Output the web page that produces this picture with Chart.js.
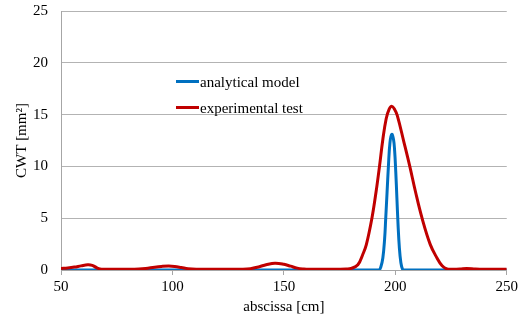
<!DOCTYPE html>
<html>
<head>
<meta charset="utf-8">
<script src="https://cdn.jsdelivr.net/npm/chart.js@4"></script>
<style>
  html, body { margin: 0; padding: 0; background: #fff; }
  #wrap { width: 521px; height: 320px; }
</style>
</head>
<body>
<div id="wrap"><canvas id="c" width="521" height="320"></canvas></div>
<script>
// ---- data ----
const seriesLabels = ['analytical model', 'experimental test'];

const analyticalX = [50, 100, 150, 192.5, 193.5, 194.4, 195.2, 195.7, 196.3, 196.9, 197.6, 198.4, 199.2, 199.7, 200.2, 200.7, 201.2, 201.8, 202.5, 203.2, 203.8, 210, 250];
const analyticalY = [0, 0, 0, 0, 0.3, 1.16, 3, 5, 7.5, 10, 12.3, 13.1, 12.6, 11.5, 9.5, 7, 4.5, 2.2, 0.7, 0.1, 0, 0, 0];

const experimentalX = [50, 53, 56, 59, 62, 64, 66, 67.5, 70, 80, 85, 88, 92, 95, 98.3, 101, 104, 107, 110.7, 120, 131.5, 135, 139, 142, 146, 150, 153, 156, 159, 161.5, 170, 178, 180.2, 183.2, 185.4, 187, 189.5, 191.4, 192.9, 194.4, 195.9, 197.2, 198.4, 199.7, 200.9, 203.8, 206.5, 209, 212, 215.7, 218.7, 221, 223.2, 226, 229, 232, 236, 240, 250];
const experimentalY = [0.15, 0.2, 0.28, 0.4, 0.5, 0.45, 0.22, 0.1, 0.08, 0.08, 0.1, 0.15, 0.27, 0.34, 0.38, 0.34, 0.24, 0.13, 0.08, 0.08, 0.08, 0.13, 0.32, 0.5, 0.65, 0.55, 0.37, 0.18, 0.1, 0.08, 0.08, 0.1, 0.15, 0.5, 1.5, 2.45, 5.0, 7.6, 10.0, 12.6, 14.6, 15.5, 15.8, 15.5, 14.9, 12.4, 10.0, 7.6, 5.0, 2.45, 1.16, 0.4, 0.1, 0.08, 0.1, 0.15, 0.1, 0.08, 0.08];

const xTickMin = 50, xTickMax = 250, xTickStep = 50;
const yTickMin = 0, yTickMax = 25, yTickStep = 5;

const xTitle = 'abscissa [cm]';
const yTitle = 'CWT [mm²]';

// ---- build ----
const toPoints = (xs, ys) => xs.map((x, i) => ({ x: x, y: ys[i] }));

const colors = ['#0070C0', '#C00000'];
const fontFamily = '"Liberation Serif", "Times New Roman", serif';
const fontSize = 15;

const insideLegend = {
  id: 'insideLegend',
  afterDatasetsDraw(chart) {
    const ctx = chart.ctx;
    chart.data.datasets.forEach((ds, i) => {
      const y = 81.5 + i * 26;
      ctx.save();
      ctx.strokeStyle = ds.borderColor;
      ctx.lineWidth = 3;
      ctx.beginPath();
      ctx.moveTo(176, y);
      ctx.lineTo(199, y);
      ctx.stroke();
      ctx.fillStyle = '#000';
      ctx.font = fontSize + 'px ' + fontFamily;
      ctx.textBaseline = 'alphabetic';
      ctx.textAlign = 'left';
      ctx.fillText(ds.label, 200, y + 5);
      ctx.restore();
    });
  }
};

new Chart(document.getElementById('c'), {
  type: 'scatter',
  data: {
    datasets: [
      {
        label: seriesLabels[0],
        data: toPoints(analyticalX, analyticalY),
        borderColor: colors[0],
        backgroundColor: colors[0],
        showLine: true,
        borderWidth: 3,
        pointRadius: 0,
        tension: 0.4,
        order: 1
      },
      {
        label: seriesLabels[1],
        data: toPoints(experimentalX, experimentalY),
        borderColor: colors[1],
        backgroundColor: colors[1],
        showLine: true,
        borderWidth: 3,
        pointRadius: 0,
        tension: 0.4,
        order: 0
      }
    ]
  },
  options: {
    responsive: false,
    animation: false,
    devicePixelRatio: 1,
    layout: { padding: { top: 2, right: 13, left: 0, bottom: 0 } },
    plugins: {
      legend: { display: false },
      tooltip: { enabled: false }
    },
    scales: {
      x: {
        type: 'linear',
        min: xTickMin,
        max: xTickMax,
        ticks: {
          stepSize: xTickStep,
          color: '#000',
          padding: 3,
          maxRotation: 0,
          font: { family: fontFamily, size: fontSize }
        },
        grid: {
          drawOnChartArea: false,
          drawTicks: true,
          tickLength: 5,
          color: '#a6a6a6'
        },
        border: { display: true, color: '#a6a6a6', width: 1 },
        title: {
          display: true,
          text: xTitle,
          color: '#000',
          font: { family: fontFamily, size: fontSize },
          padding: { top: 0, bottom: 4 }
        },
        afterFit(scale) { scale.height = 50; }
      },
      y: {
        type: 'linear',
        min: yTickMin,
        max: yTickMax,
        ticks: {
          stepSize: yTickStep,
          color: '#000',
          padding: 2,
          font: { family: fontFamily, size: fontSize }
        },
        grid: {
          drawTicks: true,
          tickLength: 11,
          tickColor: 'rgba(0,0,0,0)',
          color: '#b3b3b3',
          lineWidth: 1
        },
        border: { display: true, color: '#a6a6a6', width: 1 },
        title: {
          display: true,
          text: yTitle,
          color: '#000',
          font: { family: fontFamily, size: fontSize },
          padding: { top: 13, bottom: 0 }
        },
        afterFit(scale) { scale.width = 61; }
      }
    }
  },
  plugins: [insideLegend]
});
</script>
</body>
</html>
